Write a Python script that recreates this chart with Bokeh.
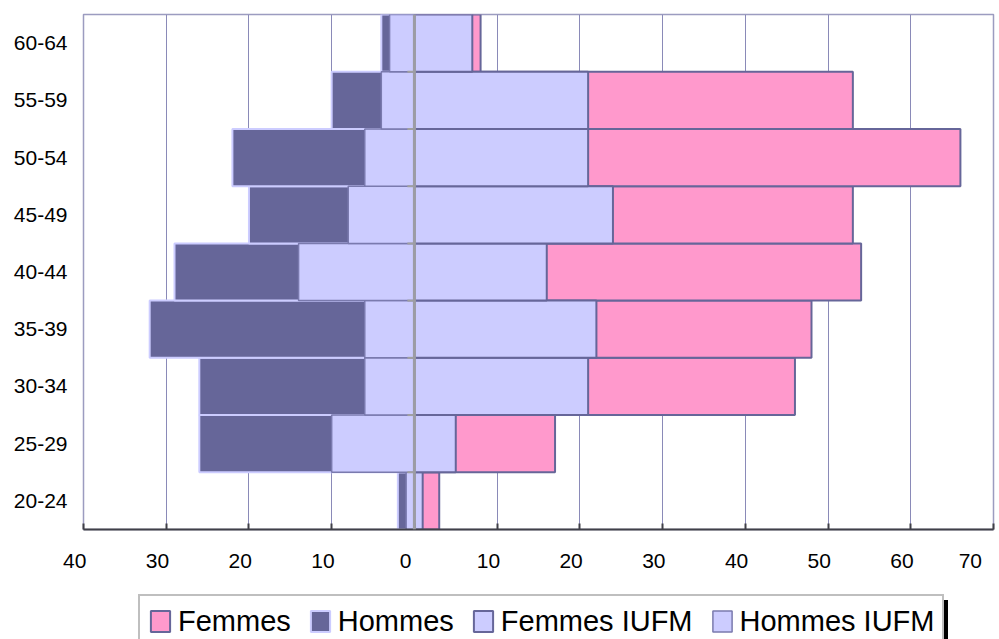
from bokeh.plotting import figure
from bokeh.layouts import column
from bokeh.models import Range1d, FixedTicker, Span, Legend, LegendItem
from bokeh.core.properties import value
from bokeh.embed import file_html
from bokeh.resources import INLINE

# ---- data ----
ages = ["20-24", "25-29", "30-34", "35-39", "40-44", "45-49", "50-54", "55-59", "60-64"]
femmes = [3, 17, 46, 48, 54, 53, 66, 53, 8]
femmes_iufm = [1, 5, 21, 22, 16, 24, 21, 21, 7]
hommes = [2, 26, 26, 32, 29, 20, 22, 10, 4]
hommes_iufm = [1, 10, 6, 6, 14, 8, 6, 4, 3]
x_ticks = [-40, -30, -20, -10, 0, 10, 20, 30, 40, 50, 60, 70]
x_tick_labels = ["40", "30", "20", "10", "0", "10", "20", "30", "40", "50", "60", "70"]
series_names = ["Femmes", "Hommes", "Femmes IUFM", "Hommes IUFM"]

FONT = "Liberation Sans"
PINK = "#FF99CC"
DARK = "#666699"
LAV = "#CCCCFF"
HI_LINE = "#7A7AAE"

ys = list(range(len(ages)))
hommes_neg = [-v for v in hommes]
hommes_iufm_neg = [-v for v in hommes_iufm]
series_right = [femmes, hommes_neg, femmes_iufm, hommes_iufm_neg]

styles = [
    dict(fill_color=PINK, line_color=DARK, line_width=2),
    dict(fill_color=DARK, line_color=LAV, line_width=2),
    dict(fill_color=LAV, line_color=DARK, line_width=2),
    dict(fill_color=LAV, line_color=HI_LINE, line_width=1.5),
]

# ---------------- main chart ----------------
p = figure(width=999, height=590, output_backend="svg", toolbar_location=None,
           x_range=Range1d(x_ticks[0], x_ticks[-1]), y_range=Range1d(-0.5, len(ages) - 0.5),
           min_border_left=83, min_border_right=6, min_border_top=14, min_border_bottom=61)
p.background_fill_color = "white"
p.border_fill_color = "white"
p.outline_line_color = "#9C9CC0"
p.outline_line_width = 1.5

p.xgrid.ticker = FixedTicker(ticks=x_ticks)
p.xgrid.grid_line_color = "#8A8AB8"
p.xgrid.grid_line_width = 1
p.ygrid.visible = False

for right, st in zip(series_right, styles):
    p.hbar(y=ys, left=0, right=right, height=1.0, **st)

# category axis at zero: small ticks at category boundaries + gray line
bounds_y = [i - 0.5 for i in range(1, len(ages))]
p.segment(x0=[-0.85] * len(bounds_y), x1=[0] * len(bounds_y), y0=bounds_y, y1=bounds_y,
          line_color="#A0A0A0", line_width=2)
p.add_layout(Span(location=0, dimension="height", line_color="#9C9CA4", line_width=3))

xa = p.xaxis[0]
xa.ticker = FixedTicker(ticks=x_ticks)
xa.major_label_overrides = {t: lab + "\u00a0\u00a0\u00a0" for t, lab in zip(x_ticks, x_tick_labels)}
xa.axis_line_color = "#404048"
xa.axis_line_width = 2
xa.major_tick_in = 6
xa.major_tick_out = 0
xa.major_tick_line_color = "#404048"
xa.major_tick_line_width = 2
xa.minor_tick_line_color = None
xa.major_label_text_font = FONT
xa.major_label_text_font_size = "21px"
xa.major_label_text_color = "black"
xa.major_label_standoff = 19

ya = p.yaxis[0]
ya.ticker = FixedTicker(ticks=ys)
ya.major_label_overrides = {i: a for i, a in zip(ys, ages)}
ya.axis_line_color = None
ya.major_tick_line_color = None
ya.minor_tick_line_color = None
ya.major_tick_out = 0
ya.major_tick_in = 0
ya.major_label_text_font = FONT
ya.major_label_text_font_size = "21px"
ya.major_label_text_color = "black"
ya.major_label_standoff = 16

# ---------------- legend strip ----------------
q = figure(width=999, height=49, output_backend="svg", toolbar_location=None,
           x_range=Range1d(0, 1), y_range=Range1d(0, 1),
           x_axis_location=None, y_axis_location=None,
           min_border_left=0, min_border_right=0, min_border_top=0, min_border_bottom=0)
q.xgrid.visible = False
q.ygrid.visible = False
q.outline_line_color = None
q.background_fill_color = "white"
q.border_fill_color = "white"

# same series, not drawn in this strip: they only supply the legend swatches
swatches = [q.hbar(y=ys, left=0, right=right, height=1.0, visible=False, **st)
            for right, st in zip(series_right, styles)]

shadow = Legend(items=[LegendItem(label=value(""), renderers=[swatches[0]])],
                location=(61, -31), orientation="horizontal",
                glyph_width=0, glyph_height=70, label_standoff=0, label_width=804,
                padding=0, margin=0, spacing=0,
                background_fill_color="black", background_fill_alpha=1.0,
                border_line_color=None, label_text_font_size="1px")
q.add_layout(shadow, "center")

legend = Legend(items=[LegendItem(label=n, renderers=[r]) for n, r in zip(series_names, swatches)],
                location=(55, -9), orientation="horizontal",
                glyph_width=24, glyph_height=26, label_standoff=6, spacing=17,
                padding=8, margin=0, label_height=34,
                label_text_font=FONT, label_text_font_size="29px", label_text_color="black",
                border_line_color="#808080", border_line_width=2,
                background_fill_color="white", background_fill_alpha=1.0)
q.add_layout(legend, "center")

layout = column(p, q, spacing=0)
open("out.html", "w").write(file_html(layout, INLINE))
